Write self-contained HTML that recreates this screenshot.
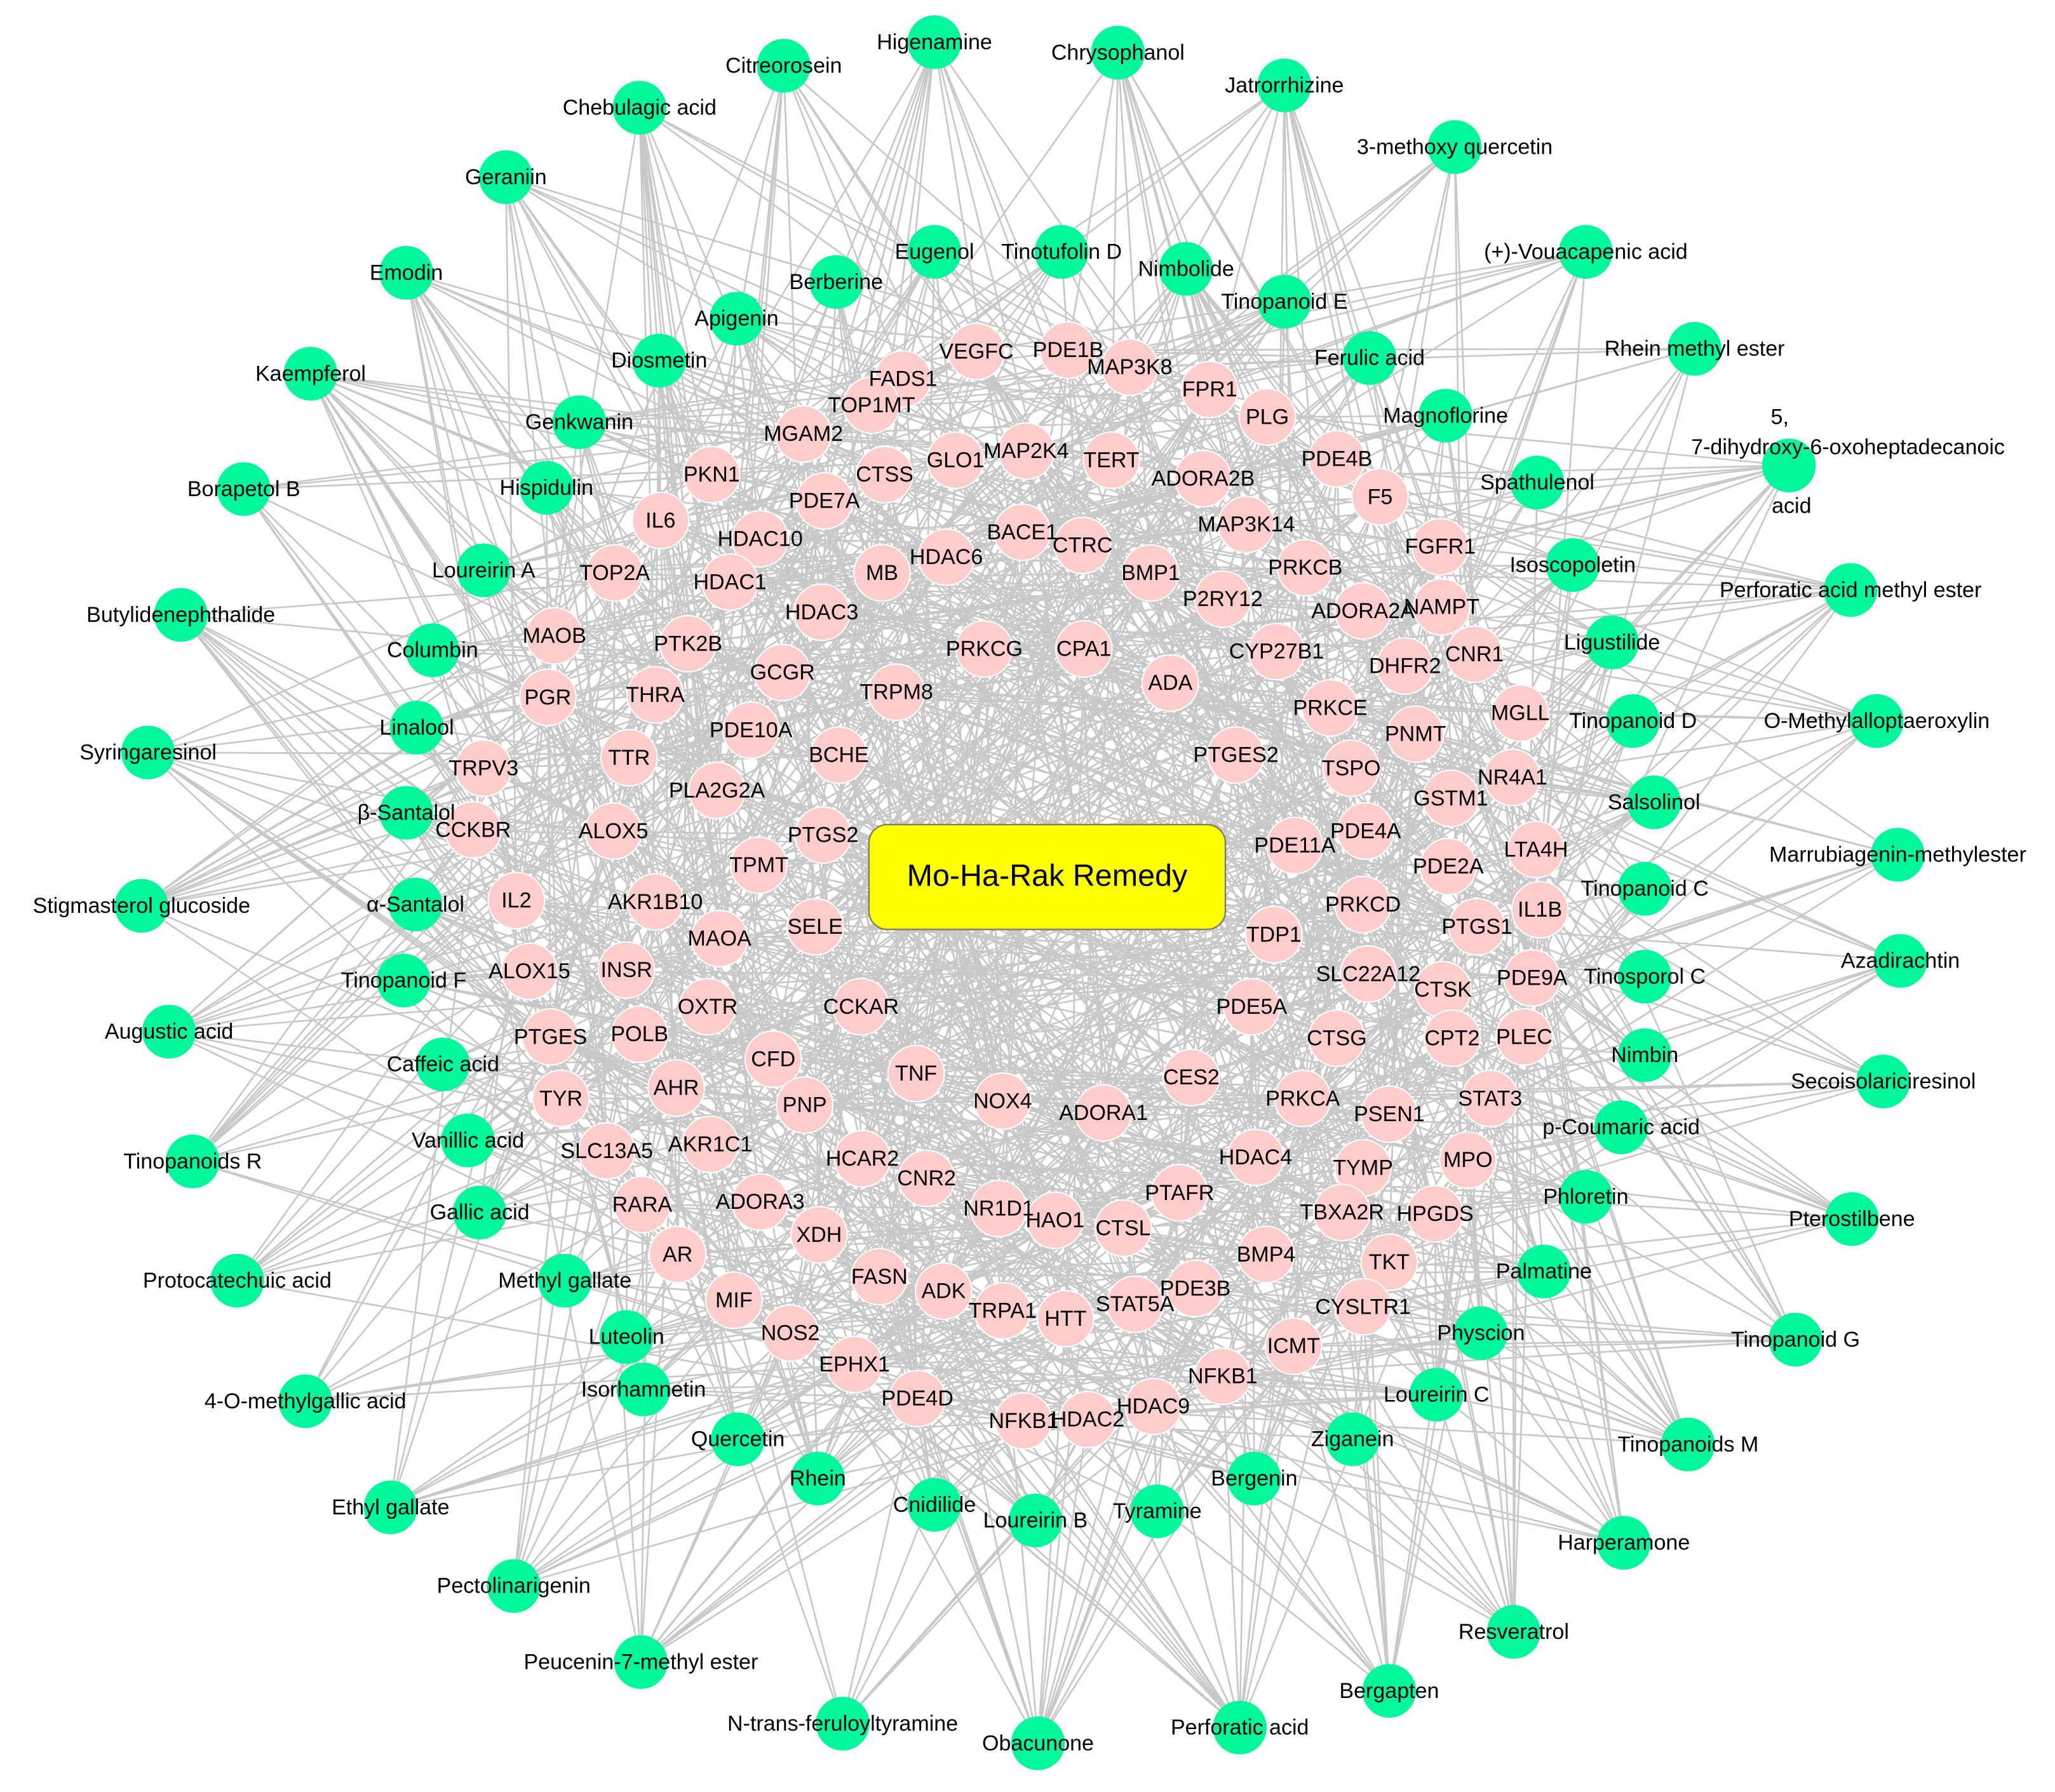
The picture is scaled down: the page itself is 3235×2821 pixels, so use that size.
<!DOCTYPE html>
<html><head><meta charset="utf-8">
<style>
html,body{margin:0;padding:0;background:#fff;}
svg{display:block;}
text{font-family:"Liberation Sans",Arial,sans-serif;font-size:16.5px;fill:#000;text-anchor:middle;dominant-baseline:central;}
</style></head>
<body>
<svg id="s" width="3235" height="2821" viewBox="0 0 1568 1367" xmlns="http://www.w3.org/2000/svg">
<rect width="1568" height="1367" fill="#fff"/>
<g id="edges" stroke="#c8c8c8" stroke-width="1.3" fill="none"></g>
<g id="circles"></g>
<rect x="663" y="629" width="272" height="80" rx="14" ry="14" fill="#ffff00" stroke="#808060" stroke-width="1.2"/>
<text x="799" y="668" style="font-size:23.5px">Mo-Ha-Rak Remedy</text>
<g id="green">
<text x="713" y="32">Higenamine</text>
<text x="598" y="50">Citreorosein</text>
<text x="853" y="40">Chrysophanol</text>
<text x="488" y="82">Chebulagic acid</text>
<text x="980" y="65">Jatrorrhizine</text>
<text x="1110" y="112">3-methoxy quercetin</text>
<text x="386" y="135">Geraniin</text>
<text x="310" y="208">Emodin</text>
<text x="713" y="192">Eugenol</text>
<text x="810" y="192">Tinotufolin D</text>
<text x="905" y="205">Nimbolide</text>
<text x="638" y="215">Berberine</text>
<text x="1210" y="192">(+)-Vouacapenic acid</text>
<text x="980" y="230">Tinopanoid E</text>
<text x="562" y="243">Apigenin</text>
<text x="237" y="285">Kaempferol</text>
<text x="503" y="275">Diosmetin</text>
<text x="1045" y="273">Ferulic acid</text>
<text x="1293" y="266">Rhein methyl ester</text>
<text x="442" y="322">Genkwanin</text>
<text x="1103" y="317">Magnoflorine</text>
<text x="1365" y="355" data-hide="1"> </text>
<text x="186" y="373">Borapetol B</text>
<text x="417" y="372">Hispidulin</text>
<text x="1173" y="368">Spathulenol</text>
<text x="1200" y="431">Isoscopoletin</text>
<text x="369" y="435">Loureirin A</text>
<text x="138" y="469">Butylidenephthalide</text>
<text x="1412" y="450">Perforatic acid methyl ester</text>
<text x="330" y="496">Columbin</text>
<text x="1230" y="490">Ligustilide</text>
<text x="318" y="555">Linalool</text>
<text x="1246" y="550">Tinopanoid D</text>
<text x="1432" y="550">O-Methylalloptaeroxylin</text>
<text x="113" y="574">Syringaresinol</text>
<text x="310" y="620">β-Santalol</text>
<text x="1262" y="612">Salsolinol</text>
<text x="1448" y="652">Marrubiagenin-methylester</text>
<text x="108" y="691">Stigmasterol glucoside</text>
<text x="317" y="690">α-Santalol</text>
<text x="1255" y="678">Tinopanoid C</text>
<text x="1450" y="733">Azadirachtin</text>
<text x="308" y="748">Tinopanoid F</text>
<text x="1255" y="745">Tinosporol C</text>
<text x="129" y="787">Augustic acid</text>
<text x="338" y="812">Caffeic acid</text>
<text x="1255" y="805">Nimbin</text>
<text x="1437" y="825">Secoisolariciresinol</text>
<text x="147" y="886">Tinopanoids R</text>
<text x="357" y="870">Vanillic acid</text>
<text x="1237" y="860">p-Coumaric acid</text>
<text x="366" y="925">Gallic acid</text>
<text x="1210" y="913">Phloretin</text>
<text x="1413" y="930">Pterostilbene</text>
<text x="181" y="977">Protocatechuic acid</text>
<text x="431" y="977">Methyl gallate</text>
<text x="1178" y="970">Palmatine</text>
<text x="478" y="1020">Luteolin</text>
<text x="1130" y="1017">Physcion</text>
<text x="1370" y="1022">Tinopanoid G</text>
<text x="233" y="1069">4-O-methylgallic acid</text>
<text x="491" y="1060">Isorhamnetin</text>
<text x="1096" y="1064">Loureirin C</text>
<text x="1288" y="1102">Tinopanoids M</text>
<text x="563" y="1098">Quercetin</text>
<text x="1032" y="1098">Ziganein</text>
<text x="298" y="1150">Ethyl gallate</text>
<text x="624" y="1128">Rhein</text>
<text x="713" y="1148">Cnidilide</text>
<text x="790" y="1160">Loureirin B</text>
<text x="883" y="1153">Tyramine</text>
<text x="957" y="1128">Bergenin</text>
<text x="1239" y="1177">Harperamone</text>
<text x="392" y="1210">Pectolinarigenin</text>
<text x="1155" y="1245">Resveratrol</text>
<text x="489" y="1268">Peucenin-7-methyl ester</text>
<text x="1060" y="1290">Bergapten</text>
<text x="643" y="1315">N-trans-feruloyltyramine</text>
<text x="792" y="1330">Obacunone</text>
<text x="946" y="1318">Perforatic acid</text>
</g>
<g id="greenlabels">
<text x="1358" y="318">5,</text>
<text x="1410" y="341">7-dihydroxy-6-oxoheptadecanoic</text>
<text x="1367" y="386">acid</text>
</g>
<g id="pink">
<text x="745" y="268">VEGFC</text><text x="815" y="267">PDE1B</text><text x="689" y="289">FADS1</text><text x="862" y="280">MAP3K8</text><text x="923" y="297">FPR1</text><text x="665" y="309">TOP1MT</text><text x="967" y="318">PLG</text><text x="613" y="331">MGAM2</text><text x="1020" y="350">PDE4B</text><text x="783" y="344">MAP2K4</text><text x="729" y="351">GLO1</text><text x="848" y="351">TERT</text><text x="543" y="362">PKN1</text><text x="675" y="362">CTSS</text><text x="629" y="382">PDE7A</text><text x="918" y="365">ADORA2B</text><text x="1053" y="379">F5</text><text x="504" y="397">IL6</text><text x="951" y="400">MAP3K14</text><text x="780" y="406">BACE1</text><text x="580" y="411">HDAC10</text><text x="1099" y="417">FGFR1</text><text x="673" y="437">MB</text><text x="722" y="425">HDAC6</text><text x="826" y="416">CTRC</text><text x="878" y="437">BMP1</text><text x="996" y="433">PRKCB</text><text x="469" y="437">TOP2A</text><text x="557" y="444">HDAC1</text><text x="627" y="467">HDAC3</text><text x="933" y="457">P2RY12</text><text x="1040" y="466">ADORA2A</text><text x="1100" y="463">NAMPT</text><text x="423" y="485">MAOB</text><text x="525" y="491">PTK2B</text><text x="751" y="495">PRKCG</text><text x="827" y="495">CPA1</text><text x="974" y="497">CYP27B1</text><text x="1125" y="499">CNR1</text><text x="1072" y="508">DHFR2</text><text x="597" y="513">GCGR</text><text x="418" y="532">PGR</text><text x="500" y="530">THRA</text><text x="684" y="528">TRPM8</text><text x="893" y="521">ADA</text><text x="1160" y="544">MGLL</text><text x="1015" y="540">PRKCE</text><text x="573" y="557">PDE10A</text><text x="1080" y="560">PNMT</text><text x="640" y="576">BCHE</text><text x="480" y="578">TTR</text><text x="369" y="586">TRPV3</text><text x="943" y="576">PTGES2</text><text x="1031" y="586">TSPO</text><text x="1154" y="593">NR4A1</text><text x="547" y="603">PLA2G2A</text><text x="1107" y="609">GSTM1</text><text x="468" y="634">ALOX5</text><text x="361" y="633">CCKBR</text><text x="628" y="637">PTGS2</text><text x="1042" y="634">PDE4A</text><text x="988" y="645">PDE11A</text><text x="1172" y="648">LTA4H</text><text x="1105" y="661">PDE2A</text><text x="579" y="660">TPMT</text><text x="394" y="687">IL2</text><text x="500" y="688">AKR1B10</text><text x="1040" y="690">PRKCD</text><text x="1175" y="694">IL1B</text><text x="1127" y="707">PTGS1</text><text x="622" y="707">SELE</text><text x="549" y="716">MAOA</text><text x="972" y="713">TDP1</text><text x="404" y="741">ALOX15</text><text x="478" y="740">INSR</text><text x="1044" y="743">SLC22A12</text><text x="1101" y="755">CTSK</text><text x="1169" y="746">PDE9A</text><text x="540" y="768">OXTR</text><text x="657" y="768">CCKAR</text><text x="955" y="768">PDE5A</text><text x="420" y="791">PTGES</text><text x="488" y="789">POLB</text><text x="1020" y="792">CTSG</text><text x="1108" y="792">CPT2</text><text x="1163" y="791">PLEC</text><text x="590" y="808">CFD</text><text x="699" y="819">TNF</text><text x="909" y="822">CES2</text><text x="516" y="830">AHR</text><text x="428" y="838">TYR</text><text x="614" y="843">PNP</text><text x="765" y="840">NOX4</text><text x="842" y="849">ADORA1</text><text x="994" y="838">PRKCA</text><text x="1137" y="838">STAT3</text><text x="1060" y="850">PSEN1</text><text x="463" y="878">SLC13A5</text><text x="542" y="873">AKR1C1</text><text x="658" y="884">HCAR2</text><text x="707" y="899">CNR2</text><text x="958" y="883">HDAC4</text><text x="1040" y="891">TYMP</text><text x="1120" y="885">MPO</text><text x="490" y="919">RARA</text><text x="580" y="917">ADORA3</text><text x="762" y="922">NR1D1</text><text x="805" y="931">HAO1</text><text x="857" y="937">CTSL</text><text x="900" y="910">PTAFR</text><text x="1024" y="925">TBXA2R</text><text x="1095" y="926">HPGDS</text><text x="625" y="942">XDH</text><text x="517" y="957">AR</text><text x="966" y="957">BMP4</text><text x="1060" y="963">TKT</text><text x="560" y="992">MIF</text><text x="671" y="974">FASN</text><text x="720" y="985">ADK</text><text x="765" y="1000">TRPA1</text><text x="813" y="1006">HTT</text><text x="866" y="995">STAT5A</text><text x="912" y="983">PDE3B</text><text x="1040" y="997">CYSLTR1</text><text x="603" y="1017">NOS2</text><text x="987" y="1027">ICMT</text><text x="652" y="1041">EPHX1</text><text x="933" y="1050">NFKB1</text><text x="700" y="1067">PDE4D</text><text x="781" y="1084">NFKB1</text><text x="830" y="1083">HDAC2</text><text x="880" y="1073">HDAC9</text>
</g>
</svg>
<script>
(function(){
var NS="http://www.w3.org/2000/svg";
var seed=12345;function r(){seed=(seed*1103515245+12345)%2147483648;return seed/2147483648;}
var g=[].slice.call(document.querySelectorAll('#green text')).map(function(t){return [+t.getAttribute('x'),+t.getAttribute('y')];});
var p=[].slice.call(document.querySelectorAll('#pink text')).map(function(t){return [+t.getAttribute('x'),+t.getAttribute('y')];});
var E=document.getElementById('edges'),C=document.getElementById('circles');
var d="";
g.forEach(function(a){
  var n=8+Math.floor(r()*10);
  for(var i=0;i<n;i++){
    // prefer nearer pink nodes
    var best=null,bd=1e9;
    for(var k=0;k<3;k++){var b=p[Math.floor(r()*p.length)];var dd=Math.hypot(a[0]-b[0],a[1]-b[1]);if(dd<bd){bd=dd;best=b;}}
    d+="M"+a[0]+" "+a[1]+"L"+best[0]+" "+best[1];
  }
});
for(var i=0;i<700;i++){
  var a=p[Math.floor(r()*p.length)],b=p[Math.floor(r()*p.length)];
  d+="M"+a[0]+" "+a[1]+"L"+b[0]+" "+b[1];
}
var path=document.createElementNS(NS,'path');path.setAttribute('d',d);E.appendChild(path);
g.forEach(function(a){var c=document.createElementNS(NS,'circle');c.setAttribute('cx',a[0]);c.setAttribute('cy',a[1]);c.setAttribute('r',20.5);c.setAttribute('fill','#00f79c');C.appendChild(c);});
p.forEach(function(a){var c=document.createElementNS(NS,'circle');c.setAttribute('cx',a[0]);c.setAttribute('cy',a[1]);c.setAttribute('r',21.5);c.setAttribute('fill','#ffcccc');c.setAttribute('stroke','#fff');c.setAttribute('stroke-width','1');C.appendChild(c);});
})();
</script>
</body></html>
